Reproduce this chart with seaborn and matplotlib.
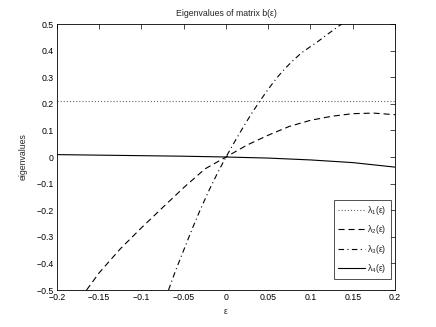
import matplotlib
matplotlib.use("Agg")
import matplotlib.pyplot as plt
import seaborn as sns

# values
eps_1 = [-0.2, 0.2]
lam_1 = [0.21, 0.21]

eps_2 = [-0.165, -0.15, -0.125, -0.10, -0.075, -0.05, -0.025, 0.0,
         0.025, 0.05, 0.075, 0.10, 0.125, 0.15, 0.175, 0.2]
lam_2 = [-0.50, -0.435, -0.345, -0.266, -0.19, -0.115, -0.045, 0.0,
         0.045, 0.082, 0.115, 0.138, 0.153, 0.163, 0.165, 0.159]

eps_3 = [-0.068, -0.06, -0.05, -0.04, -0.03, -0.02, -0.01, 0.0, 0.01, 0.02,
         0.03, 0.04, 0.05, 0.06, 0.07, 0.08, 0.09, 0.10, 0.11, 0.12, 0.13, 0.137]
lam_3 = [-0.50, -0.43, -0.35, -0.27, -0.195, -0.125, -0.06, 0.0, 0.056, 0.11,
         0.162, 0.21, 0.255, 0.297, 0.333, 0.365, 0.393, 0.415, 0.437, 0.461, 0.484, 0.50]

eps_4 = [-0.2, -0.15, -0.1, -0.05, 0.0, 0.05, 0.1, 0.15, 0.2]
lam_4 = [0.009, 0.007, 0.005, 0.003, 0.0, -0.004, -0.011, -0.021, -0.038]

x_ticks = [-0.2, -0.15, -0.1, -0.05, 0, 0.05, 0.1, 0.15, 0.2]
x_labels = ["\u22120.2", "\u22120.15", "\u22120.1", "\u22120.05", "0", "0.05", "0.1", "0.15", "0.2"]
y_ticks = [-0.5, -0.4, -0.3, -0.2, -0.1, 0, 0.1, 0.2, 0.3, 0.4, 0.5]
y_labels = ["\u22120.5", "\u22120.4", "\u22120.3", "\u22120.2", "\u22120.1", "0",
            "0.1", "0.2", "0.3", "0.4", "0.5"]

sns.set_style("white")
plt.rcParams["font.family"] = ["Liberation Sans", "DejaVu Sans"]
fs = 6.3
plt.rcParams["font.size"] = fs

fig = plt.figure(figsize=(4.36, 3.27), dpi=100)
ax = fig.add_axes([0.1307, 0.1131, 0.7752, 0.8135])

lw = 0.8
sns.lineplot(x=eps_1, y=lam_1, ax=ax, color="#666666", lw=lw, linestyle=(0, (1, 1.8)),
             label=r"$\mathregular{λ_1(ε)}$")
sns.lineplot(x=eps_2, y=lam_2, ax=ax, color="k", lw=lw, linestyle=(0, (5.5, 3.5)),
             label=r"$\mathregular{λ_2(ε)}$")
sns.lineplot(x=eps_3, y=lam_3, ax=ax, color="k", lw=lw, linestyle=(0, (5, 3, 1, 3)),
             label=r"$\mathregular{λ_3(ε)}$")
sns.lineplot(x=eps_4, y=lam_4, ax=ax, color="k", lw=lw, linestyle="-",
             label=r"$\mathregular{λ_4(ε)}$")

ax.set_xlim(-0.2, 0.2)
ax.set_ylim(-0.5, 0.5)
ax.set_xticks(x_ticks)
ax.set_xticklabels(x_labels)
ax.set_yticks(y_ticks)
ax.set_yticklabels(y_labels)
ax.tick_params(direction="in", length=3.5, width=0.5, top=True, right=True,
               labelsize=fs, pad=2.5, colors="k")
for s in ax.spines.values():
    s.set_color("k")
    s.set_linewidth(0.6)

ax.set_xlabel("ε", fontsize=fs, labelpad=3)
ax.set_ylabel("eigenvalues", fontsize=fs, labelpad=6)
ax.set_title("Eigenvalues of matrix b(ε)", fontsize=fs, pad=6)

leg = ax.legend(loc="lower right", bbox_to_anchor=(0.987, 0.041), fontsize=fs,
                frameon=True, fancybox=False, handlelength=3.1, handletextpad=0.2,
                borderpad=0.5, labelspacing=0.7, borderaxespad=0)
leg.get_frame().set_edgecolor("k")
leg.get_frame().set_linewidth(0.6)

fig.savefig("out.png", dpi=100)
